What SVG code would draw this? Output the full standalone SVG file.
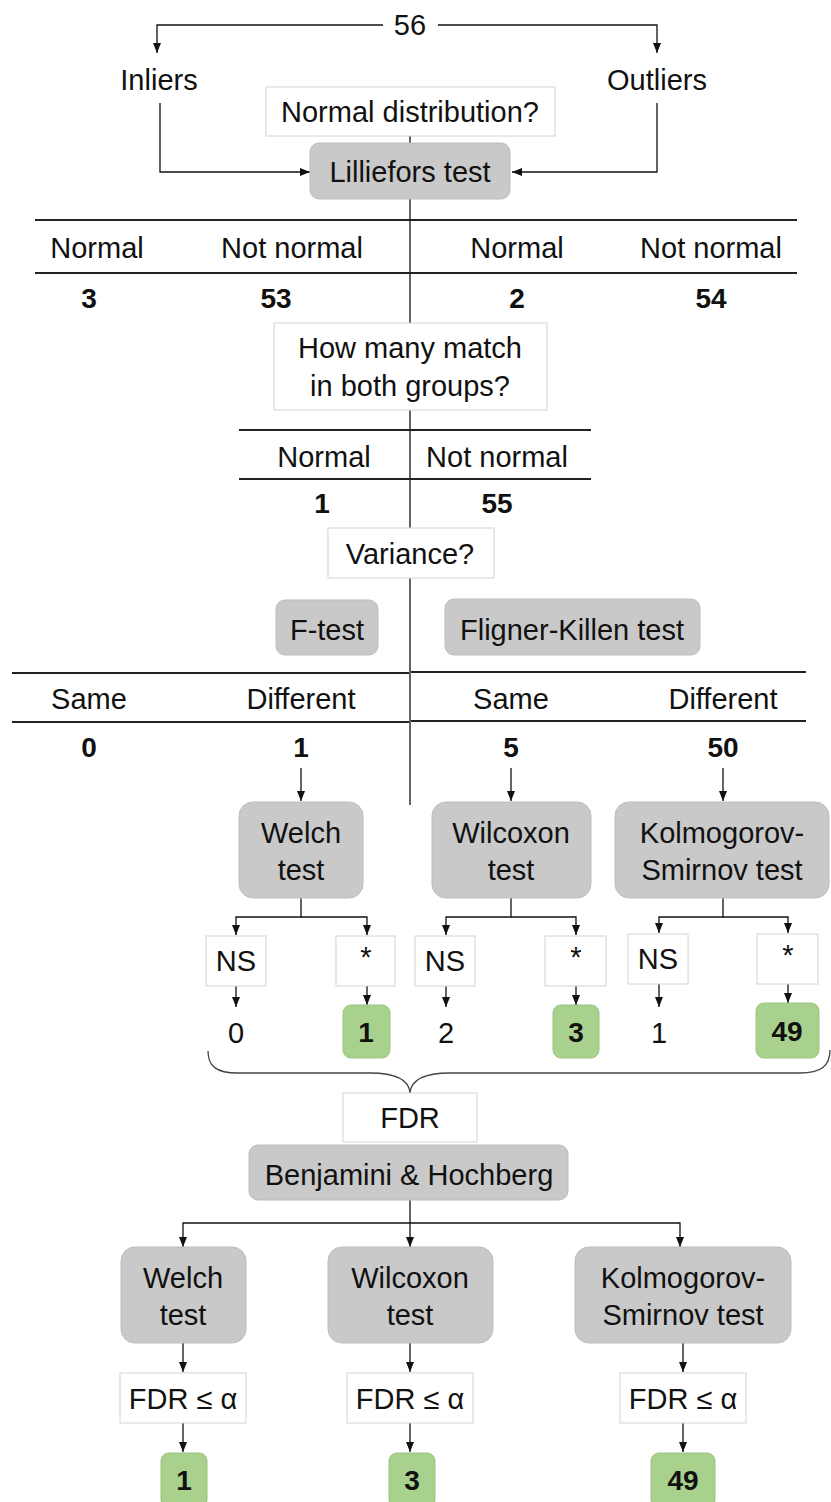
<svg xmlns="http://www.w3.org/2000/svg" width="831" height="1502" viewBox="0 0 831 1502">
<style>
text{font-family:"Liberation Sans",Arial,sans-serif;font-size:29px;fill:#111;text-anchor:middle}
.b{font-weight:bold;font-size:28px}
.gray{fill:#c9c9c9;stroke:#bdbdbd;stroke-width:1}
.white{fill:#fff;stroke:#d4d4d4;stroke-width:1}
.green{fill:#a9d18e;stroke:#9cc47f;stroke-width:1}
.ln{fill:none;stroke:#111;stroke-width:1.3}
.arr{fill:none;stroke:#111;stroke-width:1.3;marker-end:url(#ah)}
.tbl{fill:none;stroke:#222;stroke-width:2}
.brace{fill:none;stroke:#444;stroke-width:1.3}
</style>
<defs>
<marker id="ah" viewBox="0 0 10 10" refX="10" refY="5" markerWidth="10" markerHeight="10" markerUnits="userSpaceOnUse" orient="auto">
<path d="M0,1 L10,5 L0,9 Z" fill="#111"/>
</marker>
</defs>
<rect width="831" height="1502" fill="#fff"/>

<g id="connectors">
<path class="arr" d="M383,25 H157 V53"/>
<path class="arr" d="M438,25 H657 V53"/>
<path class="arr" d="M160,103 V172 H310"/>
<path class="arr" d="M657,103 V172 H512"/>
<path class="ln" d="M410,136 V143"/>
<path class="ln" d="M410,199 V323"/>
<path class="ln" d="M410,410 V528"/>
<path class="ln" d="M410,578 V805"/>
<path class="arr" d="M301,768 V801"/>
<path class="arr" d="M511,768 V801"/>
<path class="arr" d="M723,768 V801"/>
<path class="arr" d="M301,898 V917 H236 V935"/>
<path class="arr" d="M301,917 H367 V935"/>
<path class="arr" d="M511,898 V917 H446 V935"/>
<path class="arr" d="M511,917 H576 V935"/>
<path class="arr" d="M723,898 V917 H659 V933"/>
<path class="arr" d="M723,917 H788 V933"/>
<path class="arr" d="M236,986 V1007"/>
<path class="arr" d="M367,986 V1005"/>
<path class="arr" d="M446,986 V1007"/>
<path class="arr" d="M576,986 V1005"/>
<path class="arr" d="M659,984 V1007"/>
<path class="arr" d="M788,984 V1003"/>
<path class="brace" d="M208,1051 C208,1066 216,1073 238,1073 H370 C396,1073 409,1080 410,1093 C411,1080 424,1073 450,1073 H800 C821,1073 830,1066 830,1050"/>
<path class="arr" d="M410,1200 V1247"/>
<path class="arr" d="M410,1223 H183 V1247"/>
<path class="arr" d="M410,1223 H680 V1247"/>
<path class="arr" d="M183,1343 V1372"/>
<path class="arr" d="M410,1343 V1372"/>
<path class="arr" d="M683,1343 V1372"/>
<path class="arr" d="M183,1423 V1452"/>
<path class="arr" d="M410,1423 V1452"/>
<path class="arr" d="M683,1423 V1452"/>
</g>

<g id="n-56"><text x="410" y="35">56</text></g>
<g id="n-inliers"><text x="159" y="90">Inliers</text></g>
<g id="n-outliers"><text x="657" y="90">Outliers</text></g>
<g id="n-normdist"><rect class="white" x="266" y="87" width="289" height="49"/><text x="410" y="122">Normal distribution?</text></g>
<g id="n-lilliefors"><rect class="gray" x="310" y="143" width="200" height="56" rx="9"/><text x="410" y="182">Lilliefors test</text></g>

<g id="t-table1">
<line class="tbl" x1="35" y1="220" x2="797" y2="220"/>
<line class="tbl" x1="35" y1="273" x2="797" y2="273"/>
<text x="97" y="258">Normal</text>
<text x="292" y="258">Not normal</text>
<text x="517" y="258">Normal</text>
<text x="711" y="258">Not normal</text>
<text class="b" x="89" y="308">3</text>
<text class="b" x="276" y="308">53</text>
<text class="b" x="517" y="308">2</text>
<text class="b" x="711" y="308">54</text>
</g>

<g id="n-howmany"><rect class="white" x="274" y="323" width="273" height="87"/><text x="410" y="358">How many match</text><text x="410" y="396">in both groups?</text></g>

<g id="t-table2">
<line class="tbl" x1="239" y1="430" x2="591" y2="430"/>
<line class="tbl" x1="239" y1="479" x2="591" y2="479"/>
<text x="324" y="467">Normal</text>
<text x="497" y="467">Not normal</text>
<text class="b" x="322" y="513">1</text>
<text class="b" x="497" y="513">55</text>
</g>

<g id="n-variance"><rect class="white" x="328" y="528" width="166" height="50"/><text x="410" y="564">Variance?</text></g>
<g id="n-ftest"><rect class="gray" x="276" y="600" width="102" height="55" rx="9"/><text x="327" y="640">F-test</text></g>
<g id="n-fligner"><rect class="gray" x="445" y="599" width="255" height="56" rx="9"/><text x="572" y="640">Fligner-Killen test</text></g>

<g id="t-table3">
<line class="tbl" x1="12" y1="673" x2="409" y2="673"/>
<line class="tbl" x1="411" y1="672" x2="806" y2="672"/>
<line class="tbl" x1="12" y1="722" x2="409" y2="722"/>
<line class="tbl" x1="411" y1="721" x2="806" y2="721"/>
<text x="89" y="709">Same</text>
<text x="301" y="709">Different</text>
<text x="511" y="709">Same</text>
<text x="723" y="709">Different</text>
<text class="b" x="89" y="757">0</text>
<text class="b" x="301" y="757">1</text>
<text class="b" x="511" y="757">5</text>
<text class="b" x="723" y="757">50</text>
</g>

<g id="n-welch1"><rect class="gray" x="239" y="802" width="124" height="96" rx="14"/><text x="301" y="843">Welch</text><text x="301" y="880">test</text></g>
<g id="n-wilcoxon1"><rect class="gray" x="432" y="802" width="159" height="96" rx="14"/><text x="511" y="843">Wilcoxon</text><text x="511" y="880">test</text></g>
<g id="n-ks1"><rect class="gray" x="615" y="802" width="214" height="96" rx="14"/><text x="722" y="843">Kolmogorov-</text><text x="722" y="880">Smirnov test</text></g>

<g id="n-welch-ns"><rect class="white" x="206" y="936" width="60" height="50"/><text x="236" y="971">NS</text></g>
<g id="n-welch-sig"><rect class="white" x="336" y="936" width="59" height="50"/><text x="366" y="967">*</text></g>
<g id="n-wil-ns"><rect class="white" x="415" y="936" width="60" height="50"/><text x="445" y="971">NS</text></g>
<g id="n-wil-sig"><rect class="white" x="545" y="936" width="61" height="50"/><text x="576" y="967">*</text></g>
<g id="n-ks-ns"><rect class="white" x="628" y="934" width="60" height="50"/><text x="658" y="969">NS</text></g>
<g id="n-ks-sig"><rect class="white" x="757" y="934" width="61" height="50"/><text x="788" y="965">*</text></g>

<g id="n-welch-0"><text x="236" y="1043">0</text></g>
<g id="n-welch-1"><rect class="green" x="343" y="1005" width="47" height="53" rx="8"/><text class="b" x="366" y="1042">1</text></g>
<g id="n-wil-2"><text x="446" y="1043">2</text></g>
<g id="n-wil-3"><rect class="green" x="553" y="1005" width="46" height="53" rx="8"/><text class="b" x="576" y="1042">3</text></g>
<g id="n-ks-1"><text x="659" y="1043">1</text></g>
<g id="n-ks-49"><rect class="green" x="756" y="1003" width="63" height="55" rx="8"/><text class="b" x="787" y="1041">49</text></g>

<g id="n-fdr"><rect class="white" x="343" y="1093" width="134" height="49"/><text x="410" y="1128">FDR</text></g>
<g id="n-bh"><rect class="gray" x="249" y="1145" width="319" height="55" rx="9"/><text x="409" y="1185">Benjamini &amp; Hochberg</text></g>

<g id="n-welch2"><rect class="gray" x="121" y="1247" width="125" height="96" rx="14"/><text x="183" y="1288">Welch</text><text x="183" y="1325">test</text></g>
<g id="n-wilcoxon2"><rect class="gray" x="328" y="1247" width="165" height="96" rx="14"/><text x="410" y="1288">Wilcoxon</text><text x="410" y="1325">test</text></g>
<g id="n-ks2"><rect class="gray" x="575" y="1247" width="216" height="96" rx="14"/><text x="683" y="1288">Kolmogorov-</text><text x="683" y="1325">Smirnov test</text></g>

<g id="n-fdr-welch"><rect class="white" x="120" y="1373" width="126" height="50"/><text x="183" y="1409">FDR ≤ α</text></g>
<g id="n-fdr-wil"><rect class="white" x="347" y="1373" width="126" height="50"/><text x="410" y="1409">FDR ≤ α</text></g>
<g id="n-fdr-ks"><rect class="white" x="620" y="1373" width="126" height="50"/><text x="683" y="1409">FDR ≤ α</text></g>

<g id="n-res-welch"><rect class="green" x="161" y="1453" width="46" height="55" rx="8"/><text class="b" x="184" y="1490">1</text></g>
<g id="n-res-wil"><rect class="green" x="389" y="1453" width="46" height="55" rx="8"/><text class="b" x="412" y="1490">3</text></g>
<g id="n-res-ks"><rect class="green" x="651" y="1453" width="64" height="55" rx="8"/><text class="b" x="683" y="1490">49</text></g>
</svg>
